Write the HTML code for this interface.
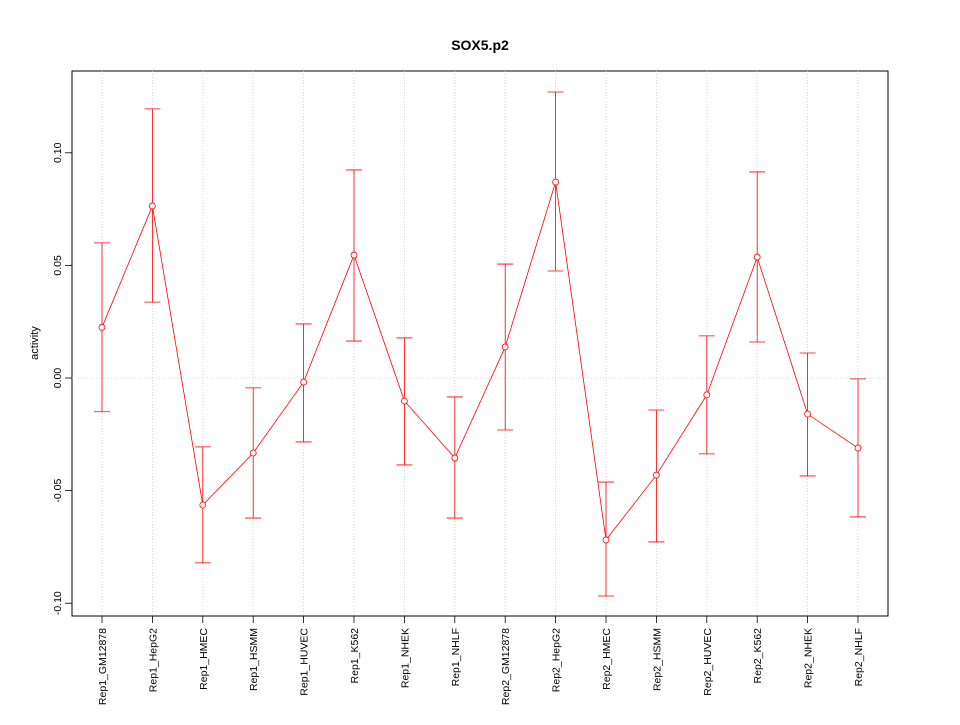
<!DOCTYPE html>
<html><head><meta charset="utf-8"><style>
body{margin:0;background:#fff;}
svg text{font-family:"Liberation Sans",sans-serif;}
svg line,svg path,svg polyline,svg circle{stroke-width:0.8;}
</style></head><body>
<svg id="chart" width="960" height="720" xmlns="http://www.w3.org/2000/svg">
<rect width="960" height="720" fill="#fff"/>
<text x="480" y="50" text-anchor="middle" font-size="14" font-weight="bold">SOX5.p2</text>
<rect x="72" y="71" width="816" height="545" fill="none" stroke="#000"/>
<text transform="translate(38,343) rotate(-90)" text-anchor="middle" font-size="11">activity</text>
<g id="grid"></g><g id="axes"></g><g id="marks"></g>
</svg>
<script>
const categories=["Rep1_GM12878","Rep1_HepG2","Rep1_HMEC","Rep1_HSMM","Rep1_HUVEC","Rep1_K562","Rep1_NHEK","Rep1_NHLF","Rep2_GM12878","Rep2_HepG2","Rep2_HMEC","Rep2_HSMM","Rep2_HUVEC","Rep2_K562","Rep2_NHEK","Rep2_NHLF"];
const values=[0.0225,0.0764,-0.0564,-0.0333,-0.0018,0.0546,-0.0102,-0.0355,0.0138,0.0870,-0.0719,-0.0431,-0.0075,0.0537,-0.0160,-0.0311];
const upper=[0.0600,0.1195,-0.0306,-0.0044,0.0240,0.0924,0.0178,-0.0084,0.0506,0.1270,-0.0462,-0.0142,0.0187,0.0915,0.0111,-0.0004];
const lower=[-0.0150,0.0337,-0.0821,-0.0622,-0.0284,0.0164,-0.0386,-0.0622,-0.0231,0.0475,-0.0968,-0.0728,-0.0337,0.0160,-0.0435,-0.0617];
const yTicks=[-0.10,-0.05,0.00,0.05,0.10];
const yTickLabels=["-0.10","-0.05","0.00","0.05","0.10"];
const NS="http://www.w3.org/2000/svg";
const yS=v=>378-v*2252;
const xS=i=>102+i*(756/(categories.length-1));
function mk(p,tag,at){const e=document.createElementNS(NS,tag);for(const k in at)e.setAttribute(k,at[k]);document.getElementById(p).appendChild(e);return e;}
categories.forEach((c,i)=>{
 const g=mk("grid","line",{x1:xS(i),x2:xS(i),y1:71,y2:616,stroke:"#ccc","stroke-dasharray":"1,2"});
 
 
 const t=mk("axes","line",{x1:xS(i),x2:xS(i),y1:616,y2:623,stroke:"#000"});
 
 
 const l=mk("axes","text",{transform:`translate(${xS(i)+4},628) rotate(-90)`,"text-anchor":"end","font-size":"10.5"});
 l.textContent=c;
 
 
});
const h=mk("grid","line",{x1:72,x2:888,y1:yS(0),y2:yS(0),stroke:"#ccc","stroke-dasharray":"1,2"});


yTicks.forEach((v,i)=>{
 const t=mk("axes","line",{x1:65,x2:72,y1:yS(v),y2:yS(v),stroke:"#000"});
 
 
 const l=mk("axes","text",{transform:`translate(61,${yS(v)}) rotate(-90)`,"text-anchor":"middle","font-size":"10.5"});
 l.textContent=yTickLabels[i];
 
 
});
const ln=mk("marks","polyline",{points:values.map((v,i)=>xS(i)+","+yS(v)).join(" "),fill:"none",stroke:"#f00"});


values.forEach((v,i)=>{
 const x=xS(i);
 const e=mk("marks","path",{d:`M${x},${yS(lower[i])}V${yS(upper[i])}M${x-8},${yS(upper[i])}H${x+8}M${x-8},${yS(lower[i])}H${x+8}`,stroke:"#f00",fill:"none"});
 
 
 const p=mk("marks","circle",{cx:x,cy:yS(v),r:3,fill:"#fff",stroke:"#f00"});
 
 
});
</script>
</body></html>
